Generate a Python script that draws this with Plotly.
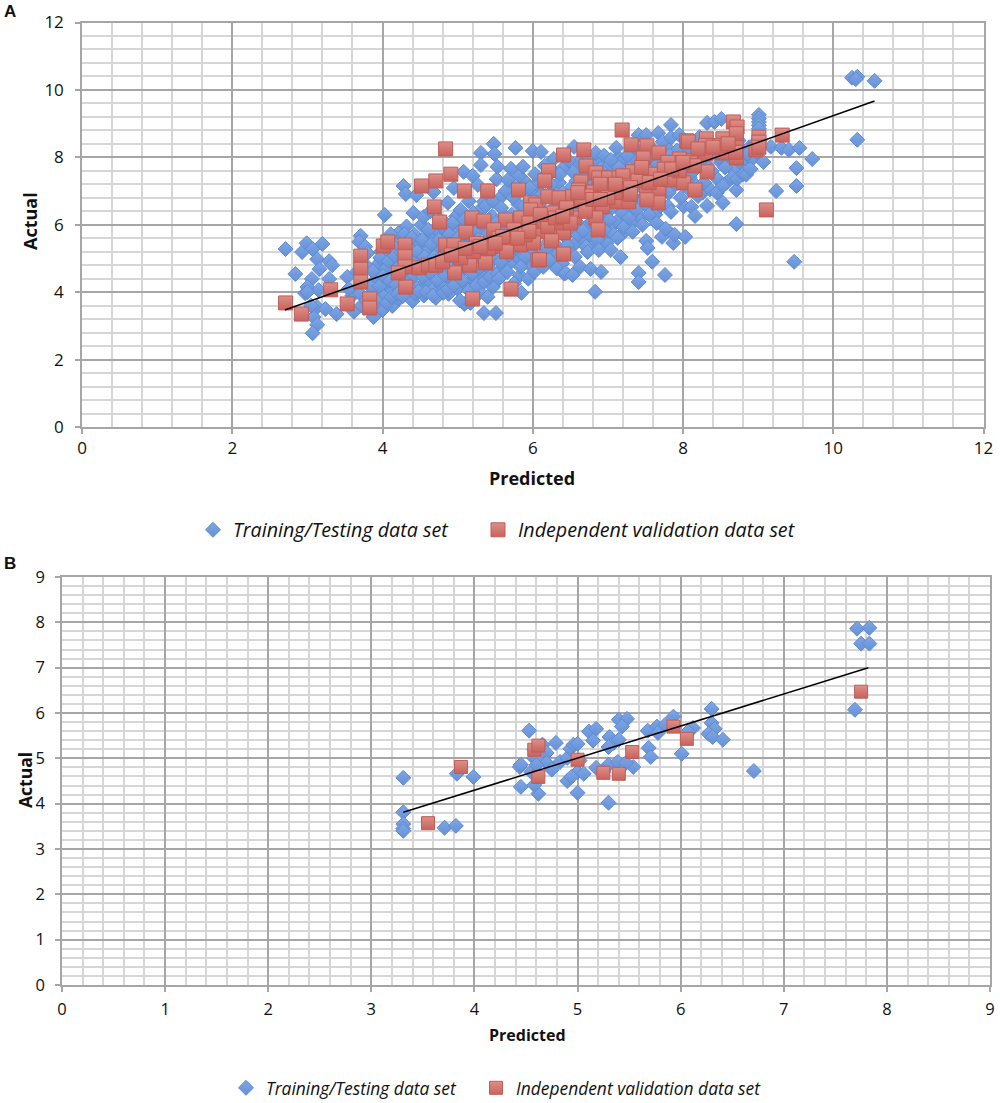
import plotly.graph_objects as go

# --- Panel A: training/testing points, (predicted, actual)
train_a_left = [(2.71,5.28),(2.93,5.19),(2.99,5.45),(3.07,5.28),(3.2,5.43),(3.13,4.98),(3.16,4.68),(3.29,4.92),(3.33,4.8),
 (2.84,4.54),(3.06,4.39),(3.0,4.15),(3.29,4.39),(3.15,4.06),(2.97,3.97),(3.13,3.56),(3.24,3.5),(3.39,3.35),(3.08,3.26),
 (3.13,3.03),(3.07,2.78),(3.53,4.45),(3.71,5.67),(3.69,5.49),(3.77,5.35),(3.8,5.16),(4.03,6.29),(3.0,4.0),(3.05,3.6),
 (3.62,3.42),(3.6,3.9),(3.55,4.1),(3.66,4.6),(3.7,3.95),(3.72,3.6),(3.75,4.3),(3.78,4.8),(3.8,3.7)]
train_a_mid1 = [(3.85,3.55),(3.88,3.26),(3.9,4.0),(3.92,4.4),(3.95,4.85),(3.98,5.2),(4.0,3.47),(4.02,3.9),(4.04,4.25),(4.05,4.7),
 (4.07,5.1),(4.09,5.55),(4.13,3.59),(4.14,4.05),(4.15,4.5),(4.17,4.85),(4.19,5.3),(4.21,5.75),(4.22,3.8),(4.24,4.3),
 (4.26,4.65),(4.28,5.05),(4.28,7.15),(4.31,6.91),(4.3,5.5),(4.32,5.95),(4.34,3.95),(4.36,4.45),(4.38,4.9),(4.4,3.74),
 (4.41,5.25),(4.41,6.35),(4.43,5.7),(4.45,6.88),(4.45,4.15),(4.47,4.6),(4.49,5.0),(4.5,5.45),(4.52,6.0),(4.55,6.23),
 (4.55,3.9),(4.57,4.3),(4.59,4.75),(4.6,5.2),(4.62,5.65),(4.64,6.4),(4.66,4.05),(4.68,6.97),(4.68,4.5),(4.7,4.95),
 (4.71,3.83),(4.72,5.35),(4.74,5.8),(4.76,6.15),(4.78,4.2),(4.8,4.65),(4.82,5.1),(4.84,5.55),(4.87,6.65),(4.86,6.0),
 (4.88,3.95),(4.9,4.4),(4.92,4.85),(4.94,5.3),(4.95,7.09),(4.96,5.75),(4.98,6.25),(5.0,4.1),(5.02,4.55),(5.03,5.0),
 (5.04,6.44),(5.05,5.45),(5.07,5.9),(5.08,7.57),(5.09,3.65),(5.1,4.25),(5.12,4.7),(5.14,5.15),(5.15,6.7),(5.16,5.6),
 (5.17,3.68),(5.18,6.1),(5.2,7.45),(5.2,4.4),(5.22,4.85),(5.24,5.3),(5.26,5.8),(5.27,7.18),(5.28,6.4),(5.3,4.0),
 (5.31,8.13),(5.31,7.77),(5.32,4.55),(5.34,5.0),(5.35,3.38),(5.35,6.68),(5.36,5.5),(5.38,5.95),(5.4,3.86),(5.4,7.0),
 (5.42,4.7),(5.44,5.2),(5.46,6.25),(5.47,4.15),(5.48,8.4),(5.49,8.1),(5.5,5.65),(5.51,3.38),(5.52,7.35),(5.53,7.72)]
train_a_mid2 = [(5.55,4.4),(5.57,4.9),(5.58,6.5),(5.6,5.35),(5.62,6.0),(5.64,7.0),(5.66,4.6),(5.67,7.33),(5.68,5.1),(5.7,5.6),
 (5.71,7.66),(5.72,6.3),(5.74,6.8),(5.75,4.25),(5.77,8.28),(5.78,5.3),(5.8,5.85),(5.82,7.45),(5.84,4.75),(5.85,3.98),
 (5.87,7.72),(5.88,6.55),(5.9,5.05),(5.92,6.05),(5.94,4.4),(5.96,7.1),(5.98,5.5),(6.0,8.19),(6.02,4.6),(6.03,7.5),
 (6.05,6.3),(6.07,5.0),(6.09,5.75),(6.11,8.16),(6.12,6.9),(6.14,4.75),(6.16,7.75),(6.18,5.3),(6.2,6.1),(6.22,4.95),
 (6.24,7.2),(6.26,5.6),(6.28,7.95),(6.3,6.5),(6.32,4.7),(6.34,5.15),(6.36,7.5),(6.38,5.9),(6.4,6.95),(6.42,4.55),
 (6.44,4.57),(6.46,5.4),(6.48,7.9),(6.5,6.3),(6.53,4.51),(6.55,8.31),(6.56,5.05),(6.58,7.3),(6.6,5.7),(6.63,4.75),
 (6.65,6.7),(6.67,5.82),(6.69,7.85),(6.71,5.35),(6.73,5.19),(6.75,8.0),(6.77,4.69),(6.79,6.1),(6.81,7.2),(6.83,4.01),
 (6.84,8.13),(6.86,5.55),(6.88,5.25),(6.9,7.65),(6.91,4.6),(6.93,6.4),(6.95,8.05),(6.97,5.8),(7.0,7.1),(7.02,6.15),
 (7.04,7.92),(7.04,5.25),(7.06,6.75),(7.08,5.7),(7.11,8.28),(7.13,5.61),(7.15,7.7),(7.17,5.04),(7.19,6.35),(7.21,5.93),
 (7.23,7.05),(7.26,8.05),(7.28,6.2),(7.31,7.5),(7.33,5.79),(7.35,8.3),(7.38,6.45),(7.41,8.66),(7.41,4.57),(7.41,4.3),
 (7.43,7.15),(7.46,6.0),(7.48,7.85),(7.51,8.66),(7.51,5.52),(7.53,5.31),(7.55,6.3),(7.57,7.45),(7.59,4.9),(7.62,8.2),
 (7.65,6.05),(7.67,8.72),(7.69,6.85),(7.72,5.64),(7.73,8.46),(7.75,7.4),(7.76,4.51),(7.77,5.88),(7.8,6.55),(7.82,8.05)]
train_a_right = [(7.84,8.96),(7.84,8.58),(7.84,6.38),(7.87,5.46),(7.89,5.7),(7.9,7.2),(7.95,8.66),(7.97,6.8),(8.0,7.75),(8.03,5.64),
 (8.05,8.3),(8.08,7.05),(8.11,6.53),(8.12,7.55),(8.16,6.26),(8.17,8.1),(8.2,6.85),(8.24,7.9),(8.28,7.25),(8.32,9.02),
 (8.32,6.56),(8.35,8.35),(8.38,7.6),(8.42,9.05),(8.45,6.95),(8.48,8.0),(8.51,9.14),(8.53,7.15),(8.53,6.65),(8.56,7.7),
 (8.6,8.45),(8.65,7.4),(8.7,8.2),(8.71,7.03),(8.71,6.02),(8.72,7.36),(8.76,7.85),(8.8,7.5),(8.84,7.48),(8.86,8.1),
 (8.9,7.65),(8.95,8.4),(9.01,9.26),(9.01,9.15),(9.01,9.05),(9.01,8.95),(9.01,8.85),(9.02,8.5),(9.07,7.86),(9.17,8.31),
 (9.24,7.0),(9.31,8.28),(9.41,8.22),(9.48,4.9),(9.51,7.68),(9.51,7.15),(9.55,8.28),(9.72,7.95),(10.25,10.36),(10.32,10.39),
 (10.3,10.32),(10.32,8.52),(10.55,10.27)]
train_a_dense = [(3.84,4.15),(3.87,4.62),(3.93,3.72),(3.96,4.18),(3.97,5.02),(4.01,4.48),(4.03,5.35),(4.06,3.68),(4.08,4.92),(4.1,4.33),
 (4.11,5.72),(4.12,3.85),(4.16,5.08),(4.18,4.22),(4.2,3.95),(4.23,4.78),(4.25,5.18),(4.27,3.88),(4.29,4.45),(4.29,5.72),(4.33,4.72),
 (4.35,5.32),(4.37,4.1),(4.39,5.62),(4.42,4.48),(4.44,3.95),(4.46,5.2),(4.48,4.02),(4.51,4.8),(4.53,5.55),(4.54,4.45),(4.56,5.05),
 (4.58,4.0),(4.61,5.85),(4.63,4.58),(4.65,5.42),(4.67,3.9),(4.69,5.05),(4.73,4.35),(4.75,5.55),(4.77,4.82),(4.79,5.95),(4.81,3.98),
 (4.83,4.5),(4.85,5.22),(4.87,4.08),(4.89,5.72),(4.91,4.68),(4.93,6.05),(4.95,4.2),(4.97,5.15),(4.99,4.72),(5.01,5.62),(5.03,3.75),
 (5.06,4.35),(5.08,5.1),(5.09,6.15),(5.11,4.85),(5.13,5.72),(5.15,4.05),(5.17,5.35),(5.19,4.55),(5.21,6.35),(5.23,5.02),(5.25,4.2),
 (5.27,5.55),(5.29,4.72),(5.3,6.05),(5.33,5.25),(5.35,4.3),(5.37,6.55),(5.39,4.88),(5.41,5.75),(5.43,4.45),(5.45,5.42),(5.47,6.7),
 (5.49,5.0),(5.51,6.05),(5.53,4.55),(5.56,5.6),(5.59,6.85),(5.61,4.75),(5.63,6.25),(5.65,5.45),(5.69,4.85),(5.73,5.95),(5.76,7.1),
 (5.79,5.05),(5.81,6.6),(5.83,4.5),(5.86,5.6),(5.89,7.3),(5.91,4.9),(5.93,6.4),(5.95,5.2),(5.97,7.0),(5.99,4.75),(6.01,6.1),(6.04,5.4),
 (6.06,7.2),(6.08,6.6),(6.1,4.9),(6.13,5.9),(6.15,5.15),(6.17,6.85),(6.19,7.5),(6.21,5.5),(6.23,6.4),(6.25,5.05),(6.27,7.6),(6.29,5.8),
 (6.31,6.9),(6.33,5.35),(6.35,7.25),(6.37,6.25),(6.39,4.85),(6.41,7.7),(6.43,5.65),(6.45,6.65),(6.47,5.2),(6.49,7.05),(6.51,5.9),
 (6.54,7.55),(6.57,5.45),(6.59,6.45),(6.61,7.85),(6.64,5.95),(6.66,7.1),(6.68,5.55),(6.7,6.85),(6.72,7.5),(6.74,6.0),(6.76,5.7),
 (6.78,7.35),(6.8,6.55),(6.82,5.4),(6.85,7.9),(6.87,6.25),(6.89,7.0),(6.92,5.6),(6.94,7.45),(6.96,6.6),(6.98,5.45),(7.01,7.75),
 (7.03,6.45),(7.05,5.95),(7.07,7.3),(7.09,6.95),(7.12,6.1),(7.14,8.0),(7.16,6.6),(7.18,7.4),(7.2,5.75),(7.22,7.95),(7.24,6.85),
 (7.27,6.35),(7.29,7.7),(7.32,6.05),(7.34,7.15),(7.36,7.95),(7.39,6.7),(7.42,7.55),(7.44,6.2),(7.47,8.2),(7.49,6.85),(7.52,7.7),
 (7.54,6.5),(7.56,8.05),(7.6,7.0),(7.63,6.3),(7.66,7.8),(7.7,6.55),(7.74,7.25),(7.78,8.3),(7.81,6.95),(7.86,7.5),(7.92,8.2),(7.96,7.3),
 (8.01,6.55),(8.04,7.95),(8.09,7.4),(8.14,8.45),(8.18,7.15),(8.22,8.6),(8.26,6.95),(8.3,7.8),(8.36,7.05),(8.4,8.2),(8.46,7.35),
 (8.5,7.85),(8.58,7.25),(8.62,8.05),(8.68,7.6),(8.74,8.5),(8.82,7.95),(8.88,8.3),(8.92,7.95),(8.98,8.15)]

# --- Panel A: independent validation points
valid_a = [(2.71,3.68),(2.92,3.35),(3.31,4.07),(3.53,3.65),(3.83,3.8),(3.83,3.53),(3.71,5.07),(3.71,4.68),(3.71,4.3),(4.31,4.15),
 (4.01,5.37),(4.07,5.49),(4.3,5.4),(4.3,5.05),(4.3,4.75),(4.84,8.25),(4.91,7.5),(4.71,7.3),(4.52,7.15),(5.09,7.0),(5.4,7.0),
 (5.81,7.03),(4.69,6.53),(4.76,6.08),(5.11,5.78),(5.19,6.2),(5.35,6.11),(5.2,3.8),(5.71,4.09),(4.96,4.57),(5.16,4.8),(5.37,4.87),
 (4.49,4.72),(4.21,4.57),(4.84,5.4),(4.95,5.4),(5.41,5.3),(4.61,4.8),(4.71,4.8),(4.8,4.9),(5.04,5.02),(5.21,5.2),(5.6,5.35),
 (5.71,5.5),(5.84,5.4),(6.01,5.5),(6.07,4.96),(5.64,6.14),(5.84,6.2),(5.97,6.65),(6.04,6.59),(5.48,5.85),(7.19,8.81),(7.31,8.37),
 (7.52,8.34),(7.47,7.98),(7.68,8.13),(8.05,8.49),(6.41,8.07),(6.68,8.22),(6.21,7.6),(6.16,7.3),(6.71,7.74),(6.84,7.54),(6.88,7.39),
 (7.01,7.39),(7.15,7.39),(7.33,7.57),(6.64,7.27),(6.61,7.03),(6.2,6.83),(6.35,6.8),(6.53,6.83),(6.81,6.97),(6.73,6.53),(6.93,6.53),
 (7.13,6.68),(7.28,6.68),(7.51,7.03),(7.68,7.03),(7.67,6.65),(7.52,6.74),(7.84,7.33),(8.01,7.24),(8.16,7.03),(6.55,6.2),(6.84,6.2),
 (6.87,5.85),(6.41,5.76),(6.35,6.05),(6.07,5.79),(6.25,5.52),(6.41,5.13),(6.09,4.96),(6.01,5.46),(5.97,6.44),(8.67,9.05),(8.72,8.9),
 (8.31,8.55),(8.53,8.55),(8.71,8.43),(9.01,8.6),(9.01,8.45),(8.97,8.22),(9.32,8.66),(8.71,7.98),(8.53,8.13),(8.07,8.46),(8.32,7.57),
 (9.11,6.44),(9.01,8.3),(8.3,8.1),(8.1,7.9),(7.95,7.95),(7.8,7.85),(7.2,7.45),(7.05,7.1),(6.95,7.0),(7.1,6.95),(6.75,6.85),(6.65,6.7),
 (6.45,6.5),(6.25,6.35),(6.15,6.1),(5.95,6.05),(5.75,5.85),(5.55,5.6),(5.25,5.45),(5.1,5.3),(4.92,5.1),(6.9,7.2),(7.25,7.15),(7.4,7.3),
 (7.6,7.5),(7.95,7.6),(8.15,7.75),(8.5,8.35),(8.7,8.15),(8.71,8.7),(8.3,8.35),(7.75,7.65),(7.45,7.7),(5.6,5.65),(5.65,5.2),(5.9,5.7),
 (6.2,5.95),(6.3,6.2),(6.5,6.05),(6.7,6.4),(7.0,6.8),(6.6,6.95),(6.8,6.75),(7.3,7.1),(7.55,7.25),(7.85,7.65),(8.0,7.85),(8.2,8.25),
 (8.4,8.3),(8.6,8.4),(7.7,7.35),(7.3,6.9),(7.1,7.2),(6.9,6.75),(6.4,6.25),(6.1,6.3),(5.95,5.8),(5.8,5.6),(5.5,5.45),(5.3,5.35)]

trend_a_x = [2.7, 10.55]
trend_a_y = [3.47, 9.67]

# --- Panel B
train_b = [(3.31,4.57),(3.31,3.81),(3.31,3.55),(3.31,3.45),(3.31,3.4),(3.71,3.47),(3.82,3.51),(3.83,4.66),(3.99,4.59),(4.53,5.61),
 (4.44,4.81),(4.45,4.37),(4.62,4.22),(4.58,4.41),(4.45,4.86),(4.58,5.0),(4.58,5.2),(4.66,5.3),(4.79,5.34),(4.7,5.12),(4.61,4.97),
 (4.7,4.9),(4.75,4.75),(4.83,4.92),(4.9,5.01),(4.93,5.21),(4.96,5.3),(5.0,5.32),(5.0,4.7),(5.06,4.66),(4.9,4.5),(4.94,4.59),(5.0,4.24),
 (5.11,5.59),(5.18,5.65),(5.15,5.39),(5.18,4.79),(5.31,5.47),(5.35,5.34),(5.3,5.25),(5.4,5.41),(5.4,5.85),(5.48,5.87),(5.43,5.7),
 (5.3,4.02),(5.3,4.86),(5.39,4.92),(5.54,4.81),(5.47,4.9),(5.68,5.61),(5.69,5.23),(5.71,5.03),(5.77,5.7),(5.78,5.56),(5.85,5.74),
 (5.93,5.92),(6.01,5.1),(6.12,5.67),(6.07,5.59),(6.3,6.09),(6.3,5.78),(6.33,5.65),(6.27,5.54),(6.31,5.47),(6.41,5.41),(6.71,4.72),
 (7.71,7.86),(7.83,7.88),(7.75,7.53),(7.83,7.53),(7.69,6.07),(4.55,4.7),(4.6,4.85),(5.02,4.95),(5.25,4.7)]
valid_b = [(3.55,3.57),(3.87,4.81),(4.58,5.19),(4.62,5.28),(4.62,4.59),(5.0,4.97),(5.25,4.68),(5.4,4.66),(5.53,5.14),(5.93,5.7),
 (6.06,5.43),(7.75,6.47)]
trend_b_x = [3.31, 7.82]
trend_b_y = [3.81, 7.0]

train_a = train_a_left + train_a_mid1 + train_a_dense + train_a_mid2 + train_a_right
FONT = "Open Sans"
W, H = 1000, 1103
MAJOR, MINOR = "#a6a6a6", "#d6d6d6"
DIAMOND = dict(symbol="diamond", color="#7ea6e6", line=dict(color="#5d8bd0", width=1),
               gradient=dict(type="vertical", color="#6791d6"))
SQUARE = dict(symbol="square", color="#dd8f89", line=dict(color="#bf5d58", width=1),
              gradient=dict(type="vertical", color="#c9625c"))

def xs(p): return [a for a, _ in p]
def ys(p): return [b for _, b in p]

fig = go.Figure()
def panel(train, valid, tx, ty, xa, ya, leg1, leg2, dsize, ssize):
    fig.add_trace(go.Scatter(x=xs(train), y=ys(train), mode="markers", name="Training/Testing data set",
                             marker=dict(size=dsize, **DIAMOND), xaxis=xa, yaxis=ya, legend=leg1))
    fig.add_trace(go.Scatter(x=xs(valid), y=ys(valid), mode="markers", name="Independent validation data set",
                             marker=dict(size=ssize, **SQUARE), xaxis=xa, yaxis=ya, legend=leg2))
    fig.add_trace(go.Scatter(x=tx, y=ty, mode="lines", line=dict(color="black", width=1.5),
                             showlegend=False, xaxis=xa, yaxis=ya))

panel(train_a, valid_a, trend_a_x, trend_a_y, "x", "y", "legend", "legend2", 11.5, 14)
panel(train_b, valid_b, trend_b_x, trend_b_y, "x2", "y2", "legend3", "legend4", 11.5, 13)

def axis(rng, dt, mdt, dom, anchor, fs, standoff):
    return dict(range=rng, dtick=dt, tick0=0, domain=dom, anchor=anchor, automargin=False,
                showgrid=True, gridcolor=MAJOR, gridwidth=1.5,
                minor=dict(dtick=mdt, tick0=0, showgrid=True, gridcolor=MINOR, gridwidth=1.8),
                showline=True, linecolor=MAJOR, linewidth=1.5, mirror=True, zeroline=False,
                ticks="outside", ticklen=5, tickcolor=MAJOR, tickwidth=1.5, ticklabelstandoff=standoff,
                tickfont=dict(family=FONT, size=fs, color="#111"))

def label(text, px, py, size, angle=0, family=FONT):
    return dict(text="<b>%s</b>" % text, x=px/W, y=1-py/H, xref="paper", yref="paper", xanchor="center", yanchor="middle",
                showarrow=False, textangle=angle, font=dict(family=family, size=size, color="#111"))

def leg(text_left, py, size):
    return dict(x=(text_left-40)/W, xanchor="left", y=1-py/H, yanchor="middle",
                font=dict(family=FONT, size=size, color="#111", style="italic"), bgcolor="rgba(0,0,0,0)")

fig.update_layout(
    width=W, height=H, margin=dict(l=0, r=0, t=0, b=0, autoexpand=False), paper_bgcolor="white", plot_bgcolor="white", showlegend=True,
    xaxis=axis([0, 12], 2, 0.4, [82/W, 983.5/W], "y", 17, 0),
    yaxis=axis([0, 12], 2, 0.4, [1-427/H, 1-22.5/H], "x", 17, 8),
    xaxis2=axis([0, 9], 1, 0.2, [62/W, 990/W], "y2", 16.5, 3),
    yaxis2=axis([0, 9], 1, 0.2, [1-985/H, 1-577/H], "x2", 16.5, 7),
    legend=leg(233, 530, 19.7), legend2=leg(518, 530, 19.7),
    legend3=leg(266, 1088, 17.4), legend4=leg(516, 1088, 17.4),
    annotations=[
        label("A", 10, 11, 17, family="Liberation Sans"),
        label("B", 10, 563, 17, family="Liberation Sans"),
        label("Predicted", 532, 478, 18),
        label("Actual", 30, 221, 18, -90),
        label("Predicted", 527, 1035, 16),
        label("Actual", 25, 780, 17.5, -90),
    ],
)
fig.write_html("out.html", config={"displayModeBar": False}, post_script="document.body.style.margin='0';")
